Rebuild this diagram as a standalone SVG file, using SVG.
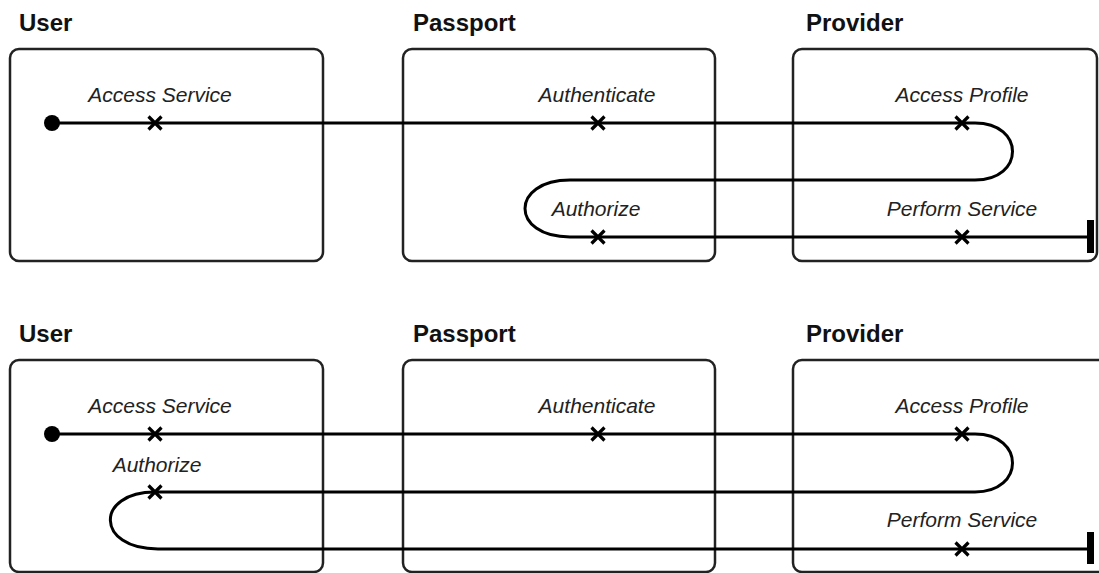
<svg xmlns="http://www.w3.org/2000/svg" width="1099" height="573" viewBox="0 0 1099 573">
<style>
.box{fill:#fff;stroke:#222;stroke-width:2.5}
.title{font-family:"Liberation Sans",Arial,sans-serif;font-weight:bold;font-size:24px;fill:#111}
.lbl{font-family:"Liberation Sans",Arial,sans-serif;font-style:italic;font-size:21px;fill:#222;text-anchor:middle}
.flow{fill:none;stroke:#000;stroke-width:3}
.x{stroke:#000;stroke-width:3.2;stroke-linecap:butt}
</style>
<defs>
<g id="xm"><path class="x" d="M-6.5,-6.5L6.5,6.5M-6.5,6.5L6.5,-6.5"/></g>
</defs>
<!-- Top panel -->
<g id="top-user"><text class="title" x="19" y="31">User</text><rect class="box" x="10" y="49" width="313" height="212" rx="9"/></g>
<g id="top-passport"><text class="title" x="413" y="31">Passport</text><rect class="box" x="403" y="49" width="312" height="212" rx="9"/></g>
<g id="top-provider"><text class="title" x="806" y="31">Provider</text><rect class="box" x="793" y="49" width="304" height="212" rx="9"/></g>
<g id="top-connectors">
<path class="flow" d="M52,123H975C1025,123 1025,180 975,180H570C510,180 510,237 570,237H1090"/>
<circle cx="52" cy="123" r="8" fill="#000"/>
<rect x="1087" y="220" width="7" height="33" fill="#000"/>
<use href="#xm" x="155" y="123"/>
<use href="#xm" x="598" y="123"/>
<use href="#xm" x="962" y="123"/>
<use href="#xm" x="598" y="237"/>
<use href="#xm" x="962" y="237"/>
</g>
<g id="top-labels">
<text class="lbl" x="160" y="102">Access Service</text>
<text class="lbl" x="597" y="102">Authenticate</text>
<text class="lbl" x="962" y="102">Access Profile</text>
<text class="lbl" x="596" y="216">Authorize</text>
<text class="lbl" x="962" y="216">Perform Service</text>
</g>
<!-- Bottom panel -->
<g id="bot-user"><text class="title" x="19" y="342">User</text><rect class="box" x="10" y="360" width="313" height="212" rx="9"/></g>
<g id="bot-passport"><text class="title" x="413" y="342">Passport</text><rect class="box" x="403" y="360" width="312" height="212" rx="9"/></g>
<g id="bot-provider"><text class="title" x="806" y="342">Provider</text><rect class="box" x="793" y="360" width="320" height="212" rx="9"/></g>
<g id="bot-connectors">
<path class="flow" d="M52,434H975C1025,434 1025,492 975,492H155C95,492 95,549 158,549H1090"/>
<circle cx="52" cy="434" r="8" fill="#000"/>
<rect x="1087" y="532" width="7" height="32" fill="#000"/>
<use href="#xm" x="155" y="434"/>
<use href="#xm" x="598" y="434"/>
<use href="#xm" x="962" y="434"/>
<use href="#xm" x="155" y="492"/>
<use href="#xm" x="962" y="549"/>
</g>
<g id="bot-labels">
<text class="lbl" x="160" y="413">Access Service</text>
<text class="lbl" x="597" y="413">Authenticate</text>
<text class="lbl" x="962" y="413">Access Profile</text>
<text class="lbl" x="157" y="472">Authorize</text>
<text class="lbl" x="962" y="527">Perform Service</text>
</g>
</svg>
